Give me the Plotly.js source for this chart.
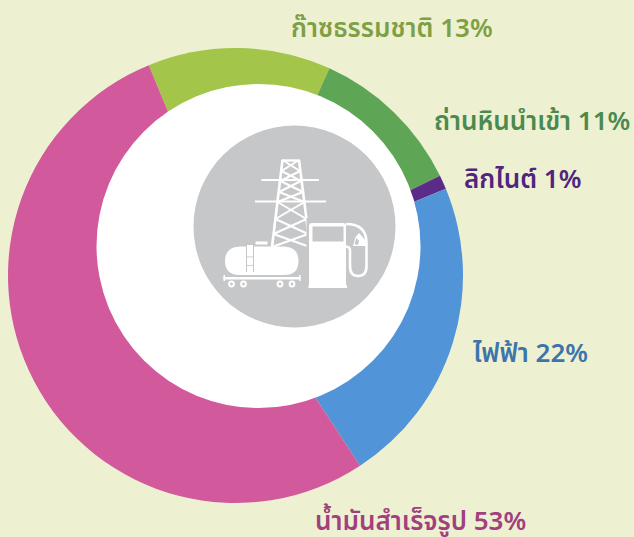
<!DOCTYPE html>
<html><head><meta charset="utf-8">
<script src="https://cdn.plot.ly/plotly-3.0.1.min.js"></script>
<style>html,body{margin:0;padding:0;background:#edf1d2;overflow:hidden}</style>
</head><body><div id="chart" style="width:634px;height:537px"></div>
<script>
const categories = ["ก๊าซธรรมชาติ","ถ่านหินนำเข้า","ลิกไนต์","ไฟฟ้า","น้ำมันสำเร็จรูป"];
const values = [13,11,1,22,53];
const sliceColors = ["#a2c54a","#5ea656","#5b2b8a","#5294d8","#d2599c"];
const labelColors = ["#7f9f45","#4a8a4f","#51247f","#3d74ab","#a23f7e"];
const labelX = [290,433,463,471,314];
const labelY = [27,120,178,352,520];
const W=634,H=537,BG="#edf1d2",GRAY="#c6c7c9",WHITE="#ffffff";
const px=x=>x/W, py=y=>1-y/H;
const base={xref:"paper",yref:"paper",layer:"above"};
function circle(cx,cy,r,fill,lw,lc){return Object.assign({},base,{type:"circle",x0:px(cx-r),x1:px(cx+r),y0:py(cy+r),y1:py(cy-r),fillcolor:fill,line:{width:lw||0,color:lc||fill}});}
function line(x0,y0,x1,y1,w,c){return Object.assign({},base,{type:"line",x0:px(x0),x1:px(x1),y0:py(y0),y1:py(y1),line:{width:w,color:c||WHITE}});}
function rect(x0,y0,x1,y1,c){return Object.assign({},base,{type:"rect",x0:px(x0),x1:px(x1),y0:py(y0),y1:py(y1),fillcolor:c||WHITE,line:{width:0}});}
function path(segs,fill,lw,lc){
  const d=segs.map(s=>{
    if(s==="Z")return "Z";
    const pairs=[];
    for(let i=1;i<s.length;i+=2)pairs.push(px(s[i])+","+py(s[i+1]));
    return s[0]+" "+pairs.join(" ");
  }).join(" ");
  return Object.assign({},base,{type:"path",path:d,fillcolor:fill||"rgba(0,0,0,0)",line:{width:lw||0,color:lc||WHITE}});
}
const shapes=[circle(258.5,246,162,WHITE),circle(294.5,226.5,101,GRAY)];
// tower
const lv=[[282.5,299,160],[281.5,300,171],[280.5,301,181],[279,303,192],[277.5,304.5,202],[275.5,306.5,219],[273.5,308,234],[272,310,247]];
shapes.push(line(282,160.5,299.5,160.5,2.4));
shapes.push(line(lv[0][0],lv[0][2],lv[7][0],lv[7][2],2.6));
shapes.push(line(lv[0][1],lv[0][2],lv[7][1],lv[7][2],2.6));
for(let i=0;i<7;i++){
  shapes.push(line(lv[i][0],lv[i][2],lv[i+1][1],lv[i+1][2],2));
  shapes.push(line(lv[i][1],lv[i][2],lv[i+1][0],lv[i+1][2],2));
}
shapes.push(line(261.5,180,319,180,2));
shapes.push(line(255,201.5,326,201.5,2));
// tank
shapes.push(rect(306.5,218,309,290,GRAY));
shapes.push(path([["M",240,246.5],["L",284,246.5],["Q",298.5,247,298.5,261],["Q",298.5,275,284,275],["L",240,275],["Q",225,275,225,261],["Q",225,247,240,246.5],"Z"],WHITE));
shapes.push(rect(255.5,241.5,267.5,244.5));
shapes.push(rect(246,245,254,272));
shapes.push(rect(246,245,247,272,GRAY),rect(253,245,254,272,GRAY),rect(246,256.5,254,257.3,GRAY),rect(246,265,254,265.8,GRAY));
shapes.push(rect(223.5,277,300.5,279.5));
shapes.push(rect(223.5,275,225,281),rect(299,275,300.5,281));
[231.5,243.5,280,292].forEach(x=>shapes.push(circle(x,284,2.4,GRAY,2,WHITE)));
// pump
shapes.push(path([["M",309,285],["L",309,226],["Q",309,223,312,223],["L",343,223],["Q",346,223,346,226],["L",346,285],"Z"],WHITE));
shapes.push(rect(308.5,285,347,288));
shapes.push(rect(312.5,226.5,343.5,241.5,GRAY));
shapes.push(path([["M",346,224],["Q",366.5,224,366.5,243],["L",366.5,266],["Q",366.5,276,358,276],["Q",350,276,350,266],["L",350,250],["Q",350,247,346,246.5]],null,2.6));
shapes.push(path([["M",353,246],["L",355.5,237],["L",359,233],["L",367,242],["L",367,246],"Z"],WHITE));
shapes.push(path([["M",354.5,244],["L",356.5,238],["L",359,241],["L",358,245],"Z"],GRAY));

const annotations=categories.map((c,i)=>({
  text:c+" "+values[i]+"%",xref:"paper",yref:"paper",x:px(labelX[i]),y:py(labelY[i]),
  xanchor:"left",yanchor:"middle",showarrow:false,borderpad:0,
  font:{family:"Noto Sans, 'Noto Sans Thai', 'DejaVu Sans', sans-serif",size:26,color:labelColors[i],weight:600}
}));
Plotly.newPlot("chart",[{
  type:"pie",labels:categories,values:values,sort:false,direction:"clockwise",rotation:-22.4,
  marker:{colors:sliceColors,line:{width:0}},textinfo:"none",hoverinfo:"label+percent",showlegend:false,
  domain:{x:[8/W,463/W],y:[1-503/H,1-48/H]}
}],{
  width:W,height:H,margin:{l:0,r:0,t:0,b:0,pad:0},paper_bgcolor:BG,plot_bgcolor:BG,showlegend:false,
  shapes:shapes,annotations:annotations
},{displayModeBar:false,responsive:false});
</script></body></html>
